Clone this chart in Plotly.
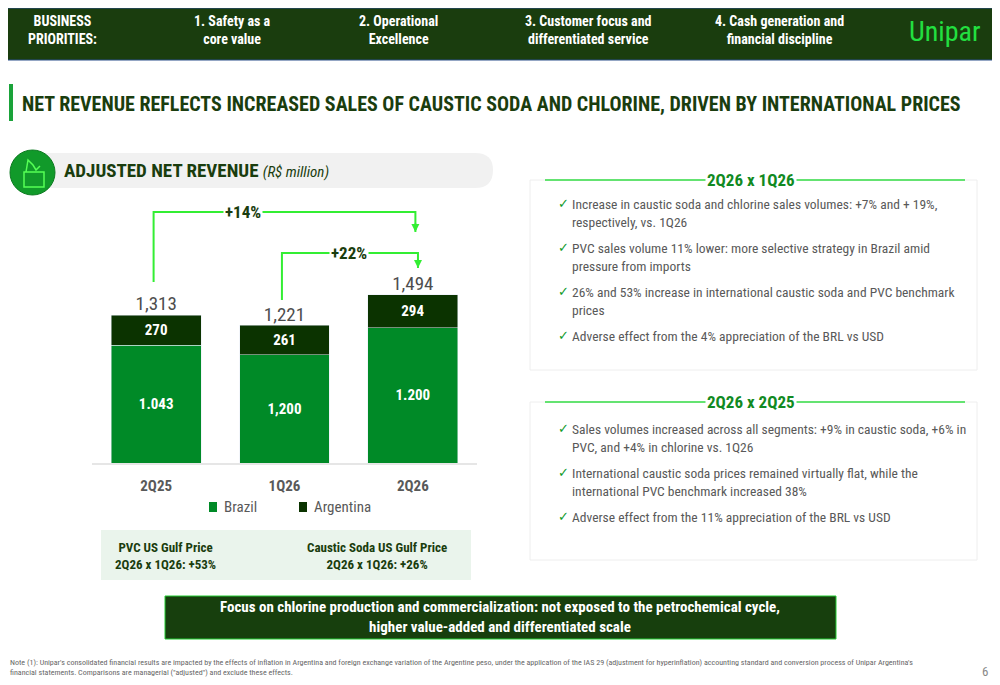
import plotly.graph_objects as go

# the page adds an 8px body margin, so the figure is drawn 8px smaller and shifted
OFF = 8
W, H = 1000 - OFF, 685 - OFF
FONT = "Liberation Sans Narrow, Roboto Condensed, Roboto, sans-serif"
DARK = "#1a3d0e"
GREEN = "#008a27"
BRIGHT = "#33ee33"
GRAY = "#595959"

quarters = ["2Q25", "1Q26", "2Q26"]
brazil = [1043, 960, 1200]
argentina = [270, 261, 294]
totals = [1313, 1221, 1494]
brazil_labels = ["<b>1.043</b>", "<b>1,200</b>", "<b>1.200</b>"]
argentina_labels = ["<b>270</b>", "<b>261</b>", "<b>294</b>"]
total_labels = ["1,313", "1,221", "1,494"]

bullets_1 = [
    "Increase in caustic soda and chlorine sales volumes: +7% and + 19%,<br>respectively, vs. 1Q26",
    "PVC sales volume 11% lower: more selective strategy in Brazil amid<br>pressure from imports",
    "26% and 53% increase in international caustic soda and PVC benchmark<br>prices",
    "Adverse effect from the 4% appreciation of the BRL vs USD",
]
bullets_2 = [
    "Sales volumes increased across all segments: +9% in caustic soda, +6% in<br>PVC, and +4% in chlorine vs. 1Q26",
    "International caustic soda prices remained virtually flat, while the<br>international PVC benchmark increased 38%",
    "Adverse effect from the 11% appreciation of the BRL vs USD",
]
priorities = ["<b>BUSINESS</b><br><b>PRIORITIES:</b>", "<b>1. Safety as a</b><br><b>core value</b>",
              "<b>2. Operational</b><br><b>Excellence</b>",
              "<b>3. Customer focus and</b><br><b>differentiated service</b>",
              "<b>4. Cash generation and</b><br><b>financial discipline</b>"]
priority_x = [62, 232, 398, 588, 779]


def px(x):
    return (x - OFF) / W


def py(y):
    return 1 - (y - OFF) / H


fig = go.Figure()
fig.add_trace(go.Bar(x=quarters, y=brazil, name="Brazil", marker_color=GREEN, width=0.7,
                     text=brazil_labels, textposition="inside", insidetextanchor="middle",
                     textfont=dict(color="white", size=15, family=FONT)))
fig.add_trace(go.Bar(x=quarters, y=argentina, name="Argentina", marker_color="#0b3300", width=0.7,
                     text=argentina_labels, textposition="inside", insidetextanchor="middle",
                     textfont=dict(color="white", size=15, family=FONT)))
fig.add_trace(go.Scatter(x=quarters, y=totals, mode="text", text=total_labels, textposition="top center",
                         textfont=dict(color="#4d4d4d", size=19, family=FONT), showlegend=False, cliponaxis=False))

shapes = []
ann = []

# header band
shapes.append(dict(type="rect", xref="paper", yref="paper", x0=px(0), x1=1, y0=py(60), y1=1,
                   fillcolor=DARK, line=dict(color="#2a4f8a", width=1), layer="below"))
for t, x in zip(priorities, priority_x):
    ann.append(dict(x=px(x), y=py(30), text=t, font=dict(color="white", size=14, family=FONT)))
ann.append(dict(x=px(944), y=py(31), text="Unipar", font=dict(color="#22e040", size=28, family=FONT)))

# title
shapes.append(dict(type="rect", xref="paper", yref="paper", x0=px(9), x1=px(13), y0=py(121), y1=py(84),
                   fillcolor="#1aa33a", line_width=0))
ann.append(dict(x=px(20), y=py(104), xanchor="left",
                text="<b>NET REVENUE REFLECTS INCREASED SALES OF CAUSTIC SODA AND CHLORINE, DRIVEN BY INTERNATIONAL PRICES</b>",
                font=dict(color=DARK, size=20, family=FONT)))

# chart header pill
shapes.append(dict(type="path", xref="paper", yref="paper",
                   path=f"M {px(40)} {py(153)} L {px(475)} {py(153)} Q {px(493)} {py(153)} {px(493)} {py(170)} "
                        f"Q {px(493)} {py(188)} {px(475)} {py(188)} L {px(40)} {py(188)} Z",
                   fillcolor="#f1f1f1", line_width=0, layer="below"))
shapes.append(dict(type="circle", xref="paper", yref="paper", x0=px(10), x1=px(55), y0=py(195), y1=py(150),
                   fillcolor="#119a2a", line=dict(color="#0c7a20", width=1)))
shapes.append(dict(type="rect", xref="paper", yref="paper", x0=px(24), x1=px(44), y0=py(187), y1=py(172),
                   fillcolor="rgba(0,0,0,0)", line=dict(color="#55ff55", width=1.5)))
shapes.append(dict(type="path", xref="paper", yref="paper",
                   path=f"M {px(26)} {py(172)} L {px(28)} {py(160)} L {px(33)} {py(165)} L {px(36)} {py(170)} L {px(40)} {py(166)}",
                   line=dict(color="#55ff55", width=1.5)))
ann.append(dict(x=px(62), y=py(171), xanchor="left",
                text="<b>ADJUSTED NET REVENUE</b> <i><span style='font-size:15px'>(R$ million)</span></i>",
                font=dict(color=DARK, size=19, family=FONT)))

# growth arrows (data x, paper y)
def bracket(x0, x1, ystart, ytop, yend, label, lx):
    shapes.append(dict(type="path", xref="x", yref="paper",
                       path=f"M {x0} {py(ystart)} L {x0} {py(ytop)} L {x1} {py(ytop)} L {x1} {py(yend)}",
                       line=dict(color=BRIGHT, width=2)))
    ann.append(dict(x=x1, y=py(yend), ax=0, ay=-10, xref="x", yref="paper",
                    showarrow=True, arrowhead=2, arrowsize=0.8, arrowwidth=2, arrowcolor=BRIGHT, text=""))
    ann.append(dict(x=lx, y=py(ytop), xref="x", yref="paper", text=f"<b>{label}</b>", bgcolor="white",
                    font=dict(color=DARK, size=17, family=FONT)))


bracket(-0.02, 2.02, 282, 212, 232, "+14%", 0.68)
bracket(0.98, 2.04, 300, 253, 268, "+22%", 1.5)

# legend squares
for lx, col, name in [(213, GREEN, "Brazil"), (303, "#0b3300", "Argentina")]:
    shapes.append(dict(type="rect", xref="paper", yref="paper", x0=px(lx - 4), x1=px(lx + 4), y0=py(512), y1=py(502),
                       fillcolor=col, line_width=0))
    ann.append(dict(x=px(lx + 9), y=py(507), xanchor="left", text=name, font=dict(color=GRAY, size=15, family=FONT)))

# price box
shapes.append(dict(type="rect", xref="paper", yref="paper", x0=px(101), x1=px(471), y0=py(580), y1=py(530),
                   fillcolor="#eaf4ec", line_width=0, layer="below"))
ann.append(dict(x=px(165), y=py(556), text="<b>PVC US Gulf Price</b><br><b>2Q26 x 1Q26: +53%</b>",
                font=dict(color=DARK, size=13, family=FONT)))
ann.append(dict(x=px(377), y=py(556), text="<b>Caustic Soda US Gulf Price</b><br><b>2Q26 x 1Q26: +26%</b>",
                font=dict(color=DARK, size=13, family=FONT)))

# right panels
def panel(y0, y1, title, items, ty):
    shapes.append(dict(type="rect", xref="paper", yref="paper", x0=px(530), x1=px(977), y0=py(y1), y1=py(y0),
                       fillcolor="white", line=dict(color="#eeeeee", width=1), layer="below"))
    shapes.append(dict(type="line", xref="paper", yref="paper", x0=px(545), x1=px(965), y0=py(y0), y1=py(y0),
                       line=dict(color="#33dd44", width=1.5)))
    ann.append(dict(x=px(751), y=py(y0), text=f"<b>{title}</b>", bgcolor="white",
                    font=dict(color="#118a22", size=17, family=FONT)))
    y = ty
    for it in items:
        ann.append(dict(x=px(556), y=py(y), yanchor="top", xanchor="left", text="✓",
                        font=dict(color="#119a2a", size=13, family=FONT)))
        ann.append(dict(x=px(570), y=py(y), yanchor="top", xanchor="left", align="left", text=it,
                        font=dict(color=GRAY, size=13.5, family=FONT)))
        y += 44 if "<br>" in it else 22


panel(180, 370, "2Q26 x 1Q26", bullets_1, 194)
panel(402, 560, "2Q26 x 2Q25", bullets_2, 419)

# bottom banner
shapes.append(dict(type="rect", xref="paper", yref="paper", x0=px(165), x1=px(836), y0=py(639), y1=py(596),
                   fillcolor="#173f0d", line=dict(color="#22cc33", width=1)))
ann.append(dict(x=px(500), y=py(617),
                text="<b>Focus on chlorine production and commercialization: not exposed to the petrochemical cycle,</b><br><b>higher value-added and differentiated scale</b>",
                font=dict(color="white", size=15, family=FONT)))
ann.append(dict(x=px(8), y=py(667), xanchor="left", align="left",
                text="Note (1): Unipar's consolidated financial results are impacted by the effects of inflation in Argentina and foreign exchange variation of the Argentine peso, under the application of the IAS 29 (adjustment for hyperinflation) accounting standard and conversion process of Unipar Argentina's<br>financial statements. Comparisons are managerial (\"adjusted\") and exclude these effects.",
                font=dict(color="#666666", size=8, family=FONT)))
ann.append(dict(x=px(985), y=py(671), text="6", font=dict(color="#888888", size=13, family=FONT)))

for a in ann:
    a.setdefault("xref", "paper")
    a.setdefault("yref", "paper")
    a.setdefault("showarrow", False)
    a.setdefault("xanchor", "center")
    a.setdefault("yanchor", "middle")

fig.update_layout(
    width=W, height=H, margin=dict(l=0, r=0, t=0, b=0),
    paper_bgcolor="white", plot_bgcolor="white",
    barmode="stack", showlegend=False,
    shapes=shapes, annotations=ann,
    xaxis=dict(domain=[px(92), px(477)], showgrid=False, showline=True, linecolor="#e6e6e6", linewidth=2,
               ticks="", tickfont=dict(color=GRAY, size=15, family=FONT), ticklabelstandoff=8,
               tickvals=quarters, ticktext=["<b>" + q + "</b>" for q in quarters]),
    yaxis=dict(domain=[py(463), py(200)], range=[0, 2334], visible=False),
)
fig.write_html("out.html")
